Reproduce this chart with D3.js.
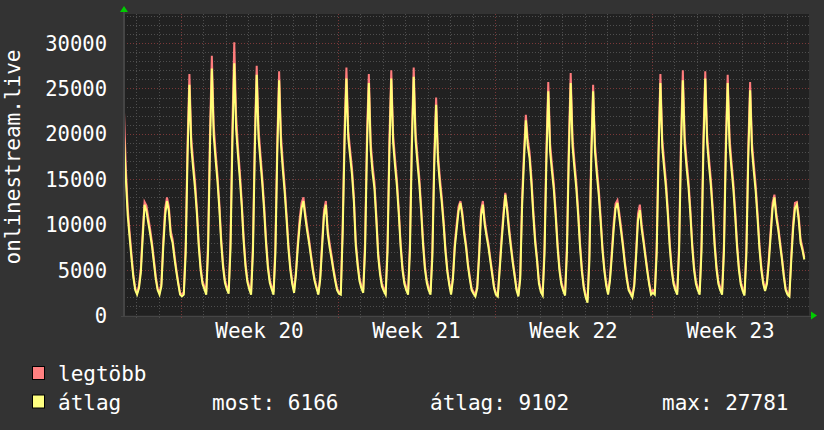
<!DOCTYPE html>
<html>
<head>
<meta charset="utf-8">
<script src="https://cdn.jsdelivr.net/npm/d3@7"></script>
<style>
  body { margin: 0; background: #333333; }
  svg text { font-family: "DejaVu Sans Mono", monospace; fill: #ffffff; }
</style>
</head>
<body>
<div id="chart"></div>
<script>
'use strict';

// ---------- data: one value every 2 hours, from Fri 11:00 (week 19) ---------- //
// hours are counted from Monday 00:00 of week 20
var startHour = -61;
var stepHours = 2;

// átlag (yellow)
var atlag = [
  19700, 15000, 11000, 8600, 6300, 4200, 2800,                                   // w19 fri
  2300, 3000, 4700, 8500, 12200, 11500, 10200, 9000, 7600, 5800, 4000, 2800,     // w19 sat
  2300, 3200, 7500, 11000, 12600, 11500, 8800, 8000, 6300, 4800, 3500, 2300,     // w19 sun
  2100, 2300, 6800, 17500, 25400, 18600, 16200, 14000, 11200, 7600, 5000, 3500,  // w20 mon
  2900, 2300, 7200, 18500, 27200, 19800, 17200, 14800, 11800, 8000, 5300, 3600,
  2900, 2400, 7400, 19000, 27781, 20500, 17600, 15000, 12000, 8200, 5400, 3700,
  2900, 2300, 7000, 18300, 26500, 19500, 17000, 14500, 11500, 7900, 5200, 3600,
  2900, 2300, 6800, 17800, 25900, 18800, 16000, 13500, 10500, 7300, 5000, 3500,
  2500, 4500, 7500, 10000, 11800, 12600, 10800, 9300, 8000, 6500, 5000, 3800,
  3000, 2300, 4000, 7500, 11000, 12200, 9000, 7500, 6300, 5000, 3800, 2800,
  2400, 2300, 9000, 19000, 26100, 19500, 17500, 15500, 12500, 7700, 5500, 3800,  // w21 mon
  3000, 2500, 7300, 18500, 25600, 18200, 15700, 14000, 10500, 6500, 4500, 3200,
  2700, 2300, 7000, 18000, 26100, 19000, 16500, 14300, 11200, 7600, 5000, 3500,
  2800, 2300, 7200, 18300, 26300, 19300, 16800, 14500, 11400, 7800, 5100, 3600,
  2800, 2300, 6500, 16500, 23200, 17000, 14500, 12500, 10000, 7000, 4800, 3400,
  2300, 4000, 7500, 9500, 11500, 12400, 11000, 9000, 7500, 5500, 4000, 2800,
  2400, 2100, 3000, 6500, 11000, 12200, 10000, 8700, 7500, 6000, 4500, 3000,
  2300, 2100, 5000, 8000, 10700, 13300, 11500, 9300, 7500, 5800, 4300, 2800,     // w22 mon
  2100, 4000, 12000, 17000, 21500, 18700, 17300, 14500, 11000, 8000, 6000, 3500,
  2600, 2200, 6800, 17000, 24700, 18000, 15800, 13800, 10800, 7400, 4900, 3400,
  2700, 2200, 7000, 17500, 25600, 18600, 16200, 14000, 11000, 7500, 4800, 3000,
  2000, 1400, 6000, 17000, 24700, 18000, 15500, 13300, 10400, 7200, 4900, 3300,
  2300, 3800, 6500, 9500, 11800, 12400, 10800, 9200, 7500, 5600, 4000, 2800,
  2400, 2000, 3200, 6500, 10500, 11600, 9500, 8000, 6400, 4800, 3400, 2300,
  2500, 2300, 6800, 17500, 25600, 18500, 16200, 14000, 11000, 7500, 5000, 3500,  // w23 mon
  2800, 2300, 7000, 18000, 25900, 18800, 16300, 14200, 11200, 7600, 5000, 3500,
  2800, 2300, 7100, 18200, 26100, 19000, 16500, 14300, 11300, 7700, 5100, 3500,
  2800, 2300, 7000, 17800, 25600, 18700, 16200, 14000, 11000, 7500, 5000, 3400,
  2700, 2200, 6700, 17200, 24800, 18200, 15800, 13600, 10600, 7300, 5000, 3500,
  2700, 3500, 5800, 8800, 11800, 13000, 10800, 9500, 7800, 6200, 4300, 2800,
  2300, 2100, 6000, 9500, 11800, 12200, 10500, 8000, 7200, 6166                  // w23 sun
];

// legtöbb (red)
var legtobb = [
  22400, 16200, 11800, 9200, 6800, 4500, 3000,
  2500, 3300, 5200, 9200, 12500, 12100, 10800, 9500, 8000, 6200, 4300, 3000,
  2500, 3500, 8200, 11800, 13000, 12000, 9300, 8400, 6700, 5100, 3700, 2500,
  2300, 2600, 7800, 19000, 26600, 19500, 17000, 14800, 11800, 8100, 5400, 3800,
  3200, 2600, 8300, 20000, 28600, 21000, 18000, 15500, 12400, 8500, 5700, 3900,
  3200, 2700, 8500, 21000, 30100, 22000, 18500, 15800, 12600, 8700, 5800, 4000,
  3200, 2600, 8000, 19800, 27500, 20500, 17800, 15200, 12100, 8400, 5600, 3900,
  3200, 2600, 7800, 19200, 26900, 19800, 16800, 14200, 11100, 7800, 5400, 3800,
  2700, 4900, 8100, 10700, 12400, 13000, 11300, 9800, 8400, 6800, 5300, 4000,
  3200, 2500, 4400, 8100, 11600, 12600, 9500, 8000, 6700, 5300, 4100, 3000,
  2600, 2600, 10000, 20500, 27300, 20300, 18200, 16200, 13100, 8200, 5900, 4100,
  3300, 2800, 8300, 20000, 26600, 19000, 16500, 14700, 11100, 7000, 4900, 3500,
  3000, 2600, 8000, 19500, 27000, 19900, 17300, 15000, 11800, 8000, 5400, 3800,
  3100, 2600, 8200, 19800, 27300, 20200, 17600, 15200, 12000, 8300, 5500, 3900,
  3100, 2600, 7400, 17800, 24000, 17800, 15200, 13100, 10500, 7400, 5100, 3600,
  2500, 4400, 8000, 10100, 12000, 12600, 11400, 9400, 7900, 5800, 4300, 3000,
  2600, 2300, 3300, 7100, 11600, 12600, 10500, 9100, 7900, 6300, 4800, 3200,
  2500, 2300, 5400, 8600, 11300, 13500, 12000, 9800, 7900, 6100, 4600, 3000,
  2300, 4500, 13000, 18000, 22100, 19500, 18000, 15200, 11600, 8500, 6300, 3800,
  2900, 2500, 7800, 18500, 25700, 18900, 16600, 14500, 11400, 7900, 5300, 3700,
  3000, 2500, 8000, 19000, 26700, 19500, 17000, 14700, 11600, 8000, 5200, 3300,
  2300, 1700, 7000, 18500, 25400, 18800, 16300, 14000, 11000, 7600, 5200, 3600,
  2500, 4200, 7100, 10200, 12300, 12700, 11300, 9700, 7900, 5900, 4300, 3000,
  2600, 2200, 3500, 7100, 11200, 12200, 10000, 8400, 6700, 5100, 3600, 2500,
  2800, 2600, 7800, 19000, 26600, 19400, 17000, 14700, 11600, 8000, 5400, 3800,
  3100, 2600, 8000, 19500, 27000, 19700, 17100, 14900, 11800, 8100, 5400, 3800,
  3100, 2600, 8100, 19700, 26900, 19900, 17300, 15000, 11900, 8200, 5500, 3800,
  3100, 2600, 8000, 19300, 26500, 19600, 17000, 14700, 11600, 8000, 5400, 3700,
  3000, 2500, 7700, 18600, 25700, 19000, 16600, 14300, 11200, 7800, 5400, 3800,
  2900, 3800, 6300, 9400, 12400, 13300, 11300, 9900, 8200, 6500, 4600, 3000,
  2500, 2300, 6600, 10200, 12400, 12500, 11000, 8400, 7500, 6400
];

var yTicks = [0, 5000, 10000, 15000, 20000, 25000, 30000];
var weekLabels = ['Week 20', 'Week 21', 'Week 22', 'Week 23'];
var legendNames = ['legtöbb', 'átlag'];
var legendStats = ['most: 6166', 'átlag: 9102', 'max: 27781'];

// ---------- layout ---------- //
var width = 824;
var height = 430;
var plot = { left: 124, right: 809, top: 14, bottom: 315.5 };
var colorMax = '#ff7c7c';
var colorAvg = '#ffff78';

var svg = d3.select('#chart').append('svg')
  .attr('width', width)
  .attr('height', height);

svg.append('rect')
  .attr('width', width).attr('height', height)
  .attr('fill', '#333333');

var x = d3.scaleLinear().domain([startHour, 672]).range([plot.left, plot.right]);
var y = d3.scaleLinear().domain([0, 33200]).range([plot.bottom, plot.top]);

svg.append('rect')
  .attr('x', plot.left).attr('y', plot.top)
  .attr('width', plot.right - plot.left)
  .attr('height', plot.bottom - plot.top)
  .attr('fill', '#212121');

// ---------- grid ---------- //
var grid = svg.append('g').attr('shape-rendering', 'crispEdges');

var minorY = d3.range(1000, 33001, 1000).filter(function (v) { return v % 5000 !== 0; });
grid.selectAll('line.hminor').data(minorY).enter().append('line')
  .attr('x1', plot.left).attr('x2', plot.right)
  .attr('y1', function (d) { return Math.round(y(d)) + 0.5; })
  .attr('y2', function (d) { return Math.round(y(d)) + 0.5; })
  .attr('stroke', '#4e4e4e').attr('stroke-dasharray', '1,2');

var dayLines = d3.range(-48, 672, 24).filter(function (h) { return h % 168 !== 0; });
grid.selectAll('line.vminor').data(dayLines).enter().append('line')
  .attr('x1', function (d) { return Math.round(x(d)) + 0.5; })
  .attr('x2', function (d) { return Math.round(x(d)) + 0.5; })
  .attr('y1', plot.top).attr('y2', plot.bottom + 3)
  .attr('stroke', '#4e4e4e').attr('stroke-dasharray', '1,2');

var majorY = yTicks.filter(function (v) { return v > 0; });
grid.selectAll('line.hmajor').data(majorY).enter().append('line')
  .attr('x1', plot.left).attr('x2', plot.right)
  .attr('y1', function (d) { return Math.round(y(d)) + 0.5; })
  .attr('y2', function (d) { return Math.round(y(d)) + 0.5; })
  .attr('stroke', '#7a3838').attr('stroke-dasharray', '1,2');

var weekLines = [0, 168, 336, 504];
grid.selectAll('line.vmajor').data(weekLines).enter().append('line')
  .attr('x1', function (d) { return Math.round(x(d)) + 0.5; })
  .attr('x2', function (d) { return Math.round(x(d)) + 0.5; })
  .attr('y1', plot.top).attr('y2', plot.bottom + 3)
  .attr('stroke', '#7a3838').attr('stroke-dasharray', '1,2');

// ---------- series ---------- //
function hourOf(i) { return startHour + i * stepHours; }

var line = d3.line()
  .x(function (d, i) { return x(hourOf(i)); })
  .y(function (d) { return y(d); });

svg.append('path').datum(legtobb)
  .attr('d', line)
  .attr('fill', 'none')
  .attr('stroke', colorMax)
  .attr('stroke-width', 2);

svg.append('path').datum(atlag)
  .attr('d', line)
  .attr('fill', 'none')
  .attr('stroke', colorAvg)
  .attr('stroke-width', 2);

// ---------- axes ---------- //
var axes = svg.append('g').attr('shape-rendering', 'crispEdges');
axes.append('line')
  .attr('x1', plot.left - 0.5).attr('x2', plot.left - 0.5)
  .attr('y1', plot.top - 2).attr('y2', plot.bottom + 1)
  .attr('stroke', '#454545').attr('stroke-width', 2);
axes.append('line')
  .attr('x1', plot.left - 3).attr('x2', plot.right + 2)
  .attr('y1', Math.round(plot.bottom) + 0.5).attr('y2', Math.round(plot.bottom) + 0.5)
  .attr('stroke', '#454545').attr('stroke-width', 1);

// green arrows
svg.append('path')
  .attr('d', 'M' + (plot.left - 4) + ',' + (plot.top - 2) + ' L' + plot.left + ',' + (plot.top - 8) +
    ' L' + (plot.left + 4) + ',' + (plot.top - 2) + ' Z')
  .attr('fill', '#00cc00');
svg.append('path')
  .attr('d', 'M' + (plot.right + 2) + ',' + (plot.bottom - 4) + ' L' + (plot.right + 8) + ',' + plot.bottom +
    ' L' + (plot.right + 2) + ',' + (plot.bottom + 4) + ' Z')
  .attr('fill', '#00cc00');

svg.selectAll('text.ylab').data(yTicks).enter().append('text')
  .attr('x', 107)
  .attr('y', function (d) { return y(d) + 7.5; })
  .attr('text-anchor', 'end')
  .attr('font-size', 20.5)
  .text(function (d) { return d; });

svg.selectAll('text.xlab').data(weekLabels).enter().append('text')
  .attr('x', function (d, i) { return x(84 + i * 168); })
  .attr('y', 338)
  .attr('text-anchor', 'middle')
  .attr('font-size', 21)
  .text(function (d) { return d; });

svg.append('text')
  .attr('transform', 'translate(20,157) rotate(-90)')
  .attr('text-anchor', 'middle')
  .attr('font-size', 21)
  .text('onlinestream.live');

// ---------- legend ---------- //
var legend = svg.append('g');
legend.selectAll('rect').data([colorMax, colorAvg]).enter().append('rect')
  .attr('x', 32.5)
  .attr('y', function (d, i) { return 366.5 + i * 28.5; })
  .attr('width', 12).attr('height', 13)
  .attr('fill', function (d, i) { return i === 0 ? '#ff8080' : '#ffff80'; })
  .attr('stroke', '#000').attr('stroke-width', 1);

legend.selectAll('text.name').data(legendNames).enter().append('text')
  .attr('x', 58)
  .attr('y', function (d, i) { return 381 + i * 28.5; })
  .attr('font-size', 21)
  .text(function (d) { return d; });

var statX = [212, 430, 662];
legend.selectAll('text.stat').data(legendStats).enter().append('text')
  .attr('x', function (d, i) { return statX[i]; })
  .attr('y', 409.5)
  .attr('font-size', 21)
  .text(function (d) { return d; });
</script>
</body>
</html>
